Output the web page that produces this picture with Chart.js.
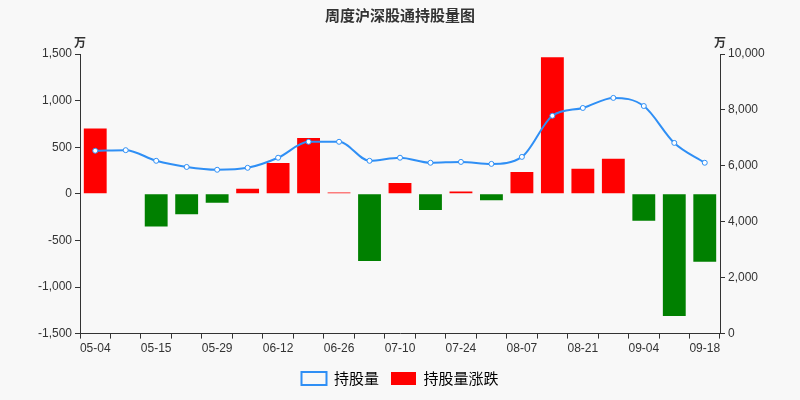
<!DOCTYPE html>
<html><head><meta charset="utf-8">
<script src="https://cdn.jsdelivr.net/npm/chart.js@4/dist/chart.umd.min.js"></script>
<style>html,body{margin:0;background:#f8f8f8}#w{width:800px;height:400px;position:relative}</style>
</head><body><div id="w"><canvas id="c"></canvas></div>
<script>
const categories=["05-04","05-08","05-15","05-22","05-29","06-05","06-12","06-19","06-26","07-03","07-10","07-17","07-24","07-31","08-07","08-14","08-21","08-28","09-04","09-11","09-18"];
const holdings=[6540,6560,6180,5960,5860,5930,6290,6860,6860,6180,6290,6110,6140,6070,6320,7790,8070,8430,8140,6820,6110];
const changes=[700,0,-350,-220,-95,55,330,600,15,-720,115,-175,25,-70,235,1465,270,375,-290,-1310,-730];
const unitPlugin={id:'u',afterDraw(ch){const c=ch.ctx;c.save();c.font='bold 12px "Noto Sans CJK SC"';c.fillStyle='#333';c.textAlign='center';
c.fillText('万',ch.scales.y.right,42);c.fillText('万',ch.scales.y1.left,42);
// legend line icon
c.restore();}};
const fmt=v=>v.toLocaleString('en-US');
new Chart(document.getElementById('c'),{
data:{labels:categories,datasets:[
{type:'line',label:'持股量',data:holdings,yAxisID:'y1',borderColor:'#2f8ff5',backgroundColor:'#fff',borderWidth:2,pointRadius:2.5,pointBorderWidth:1,cubicInterpolationMode:'monotone',order:0},
{type:'bar',label:'持股量涨跌',data:changes,yAxisID:'y',backgroundColor:changes.map(v=>v>=0?'#ff0000':'#008000'),categoryPercentage:0.75,barPercentage:1,order:1}]},
options:{responsive:true,maintainAspectRatio:false,animation:false,
layout:{padding:{left:10,right:10,top:0,bottom:4}},
plugins:{title:{display:true,text:'周度沪深股通持股量图',color:'#333',font:{size:15,weight:'bold',family:'"Noto Sans CJK SC"'},padding:{top:6,bottom:30}},
legend:{position:'bottom',labels:{boxWidth:25,boxHeight:13,padding:12,font:{size:15,family:'"Noto Sans CJK SC"'},color:'#333',
generateLabels(ch){return [{text:'持股量',fillStyle:'rgba(0,0,0,0)',strokeStyle:'#2f8ff5',lineWidth:2,datasetIndex:0,pointStyle:'line'},{text:'持股量涨跌',fillStyle:'#ff0000',strokeStyle:'#ff0000',lineWidth:0,datasetIndex:1}];}}},tooltip:{enabled:false}},
scales:{x:{offset:true,grid:{display:true,drawOnChartArea:false,color:'#333',tickLength:5},border:{color:'#333'},ticks:{color:'#333',font:{size:12},maxRotation:0,autoSkip:false,callback:(v,i)=>i%2===0?categories[i]:''}},
y:{position:'left',min:-1500,max:1500,afterFit(s){s.width=70;},ticks:{stepSize:500,color:'#333',font:{size:12},callback:fmt},grid:{display:true,drawOnChartArea:false,color:'#333',tickLength:5},border:{color:'#333'}},
y1:{position:'right',min:0,max:10000,afterFit(s){s.width=70;},ticks:{stepSize:2000,color:'#333',font:{size:12},callback:fmt},grid:{display:true,drawOnChartArea:false,color:'#333',tickLength:5},border:{color:'#333'}}}},
plugins:[unitPlugin]});
</script></body></html>
